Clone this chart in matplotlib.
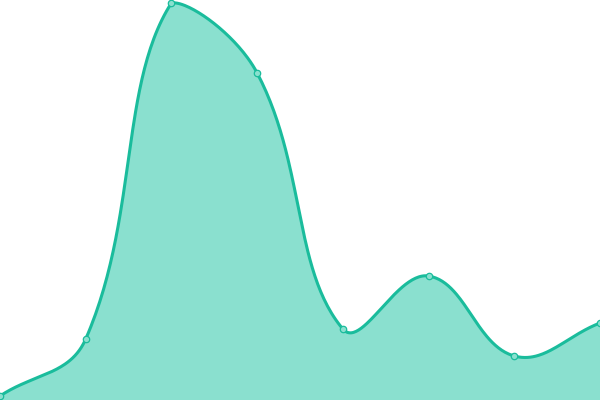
import numpy as np
import matplotlib
matplotlib.use("Agg")
import matplotlib.pyplot as plt

labels = ["1", "2", "3", "4", "5", "6", "7", "8"]
values = [4, 61, 397, 327, 71, 124, 44, 77]

LINE = "#1abc9c"
FILL = "#8ae0cf"

fig = plt.figure(figsize=(6, 4), dpi=100)
ax = fig.add_axes([0, 0, 1, 1])
ax.set_xlim(0, 600)
ax.set_ylim(0, 400)
ax.axis("off")

n = len(values)
xs = np.array([i * 600.0 / (n - 1) for i in range(n)])
ys = np.array(values, dtype=float)

# Chart.js-style spline (tension 0.4) computed in pixel space (1 unit = 1 px)
t = 0.4
cps = []
for i in range(n):
    p = np.array([xs[i], ys[i]])
    prev = np.array([xs[i - 1], ys[i - 1]]) if i > 0 else p
    nxt = np.array([xs[i + 1], ys[i + 1]]) if i < n - 1 else p
    d01 = np.hypot(*(p - prev))
    d12 = np.hypot(*(nxt - p))
    tot = d01 + d12
    s01 = d01 / tot if tot else 0
    s12 = d12 / tot if tot else 0
    fa = t * s01
    fb = t * s12
    cp_prev = p - fa * (nxt - prev)
    cp_next = p + fb * (nxt - prev)
    cp_prev = np.clip(cp_prev, [0, 0], [600, 400])
    cp_next = np.clip(cp_next, [0, 0], [600, 400])
    cps.append((cp_prev, cp_next))

cx, cy = [], []
tt = np.linspace(0, 1, 60)
for i in range(n - 1):
    p0 = np.array([xs[i], ys[i]])
    p3 = np.array([xs[i + 1], ys[i + 1]])
    p1 = cps[i][1]
    p2 = cps[i + 1][0]
    b = ((1 - tt) ** 3)[:, None] * p0 + (3 * (1 - tt) ** 2 * tt)[:, None] * p1 \
        + (3 * (1 - tt) * tt ** 2)[:, None] * p2 + (tt ** 3)[:, None] * p3
    cx.extend(b[:, 0])
    cy.extend(b[:, 1])
cx = np.array(cx)
cy = np.array(cy)

ax.fill_between(cx, cy, 0, color=FILL, linewidth=0, zorder=1)
ax.plot(cx, cy, color=LINE, linewidth=2.2, zorder=2, solid_capstyle="butt")
ax.plot(xs, ys, linestyle="none", marker="o", markersize=4.6,
        markerfacecolor=FILL, markeredgecolor=LINE, markeredgewidth=0.9,
        zorder=3, clip_on=True)

fig.savefig("out.png", dpi=100)
